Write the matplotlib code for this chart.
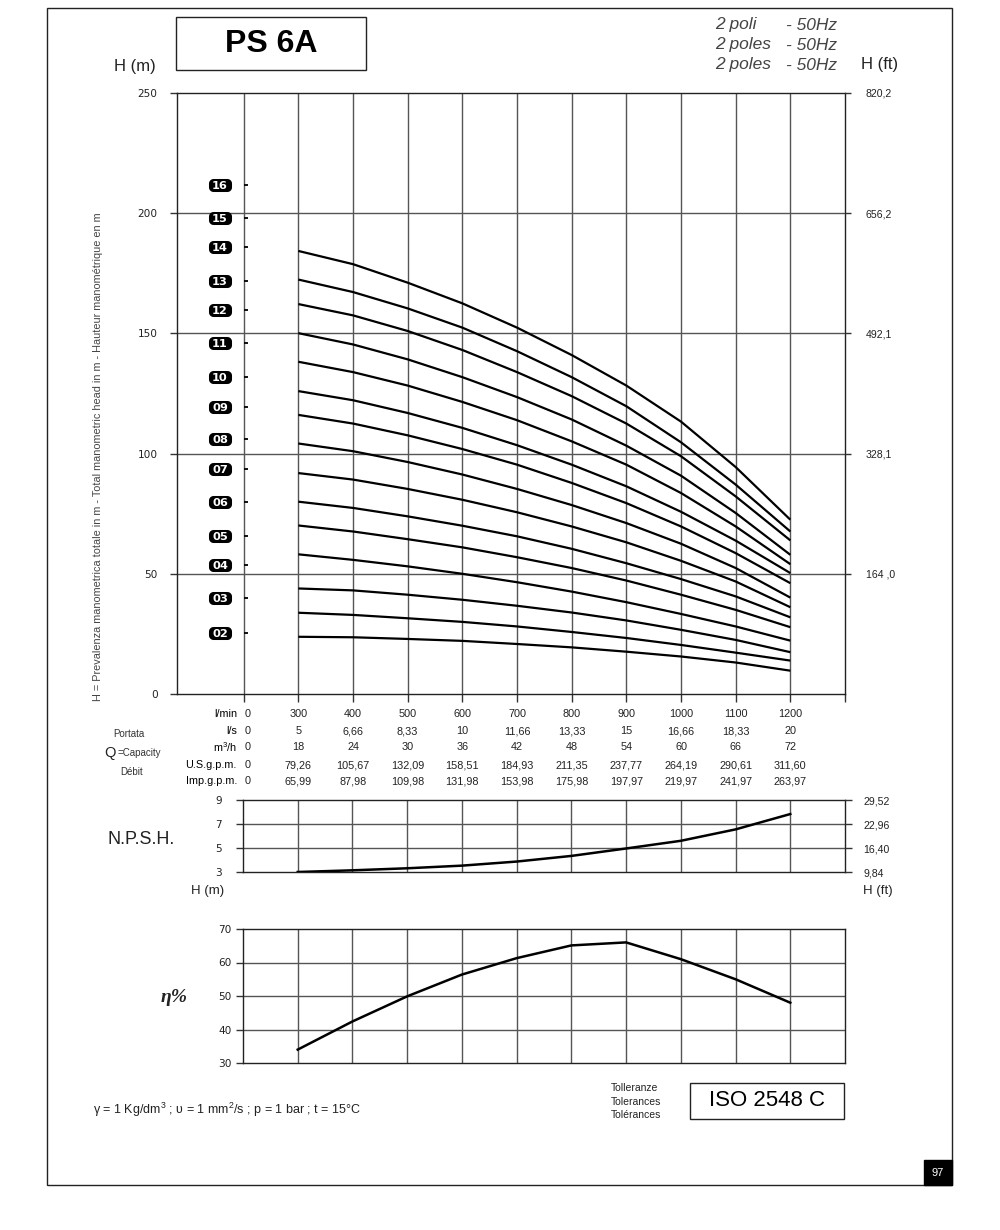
import matplotlib
matplotlib.use("Agg")
import numpy as np
import matplotlib.pyplot as plt
from matplotlib.transforms import Affine2D, blended_transform_factory
from matplotlib.patches import Rectangle
from matplotlib.path import Path

plt.rcParams['font.family'] = ['Liberation Sans', 'DejaVu Sans']
plt.rcParams['mathtext.fontset'] = 'custom'
plt.rcParams['mathtext.rm'] = 'Liberation Sans'
plt.rcParams['mathtext.it'] = 'Liberation Sans:italic'
plt.rcParams['mathtext.bf'] = 'Liberation Sans:bold'

# ---------------- data ----------------
flow_lpm = [300, 400, 500, 600, 700, 800, 900, 1000, 1100, 1200]
zero_col = 200          # the "0" column is drawn one grid step left of 300
right_edge = 1300

h16 = [184.3, 178.8, 171.1, 162.5, 152.4, 141.0, 128.3, 113.3, 94.4, 72.5]
h15 = [172.4, 167.2, 160.4, 152.4, 142.6, 131.8, 119.7, 104.7, 87.1, 67.6]
h14 = [162.2, 157.5, 151.0, 143.1, 133.9, 123.9, 112.5, 98.9, 82.2, 63.9]
h13 = [150.1, 145.4, 139.2, 131.8, 123.5, 114.2, 103.3, 90.8, 75.3, 57.9]
h12 = [138.2, 133.9, 128.3, 121.5, 113.9, 105.1, 95.4, 83.6, 69.7, 54.0]
h11 = [126.0, 122.2, 116.9, 110.7, 103.5, 95.4, 86.4, 75.8, 63.8, 50.3]
h10 = [116.1, 112.5, 107.6, 101.9, 95.4, 87.8, 79.4, 69.7, 58.6, 46.1]
h09 = [104.2, 101.0, 96.5, 91.3, 85.3, 78.6, 71.1, 62.5, 52.4, 40.1]
h08 = [91.9, 89.2, 85.3, 80.8, 75.6, 69.7, 63.1, 55.4, 46.8, 36.1]
h07 = [80.0, 77.4, 73.9, 70.0, 65.6, 60.4, 54.4, 47.8, 40.6, 31.9]
h06 = [70.1, 67.6, 64.4, 61.0, 56.9, 52.4, 47.2, 41.3, 35.0, 27.8]
h05 = [58.1, 55.8, 53.1, 50.0, 46.5, 42.6, 38.2, 33.3, 28.1, 22.2]
h04 = [43.9, 43.1, 41.3, 39.2, 36.7, 33.9, 30.6, 26.7, 22.5, 17.4]
h03 = [33.8, 32.9, 31.5, 30.0, 28.1, 25.8, 23.3, 20.4, 17.2, 13.9]
h02 = [23.8, 23.6, 22.9, 22.1, 20.8, 19.4, 17.6, 15.6, 13.1, 9.7]
head_curves = [h02, h03, h04, h05, h06, h07, h08, h09, h10, h11, h12, h13, h14, h15, h16]

stage_names = ['02', '03', '04', '05', '06', '07', '08', '09', '10', '11',
               '12', '13', '14', '15', '16']
shutoff_head = [25.4, 39.9, 53.6, 65.7, 79.9, 93.6, 106.1, 119.4, 131.9, 146.0,
                159.7, 171.8, 186.0, 198.0, 211.7]

h_ticks = [0, 50, 100, 150, 200, 250]
ft_ticks = [50, 100, 150, 200, 250]
ft_labels = ['164 ,0', '328,1', '492,1', '656,2', '820,2']

lpm_labels = ['0', '300', '400', '500', '600', '700', '800', '900', '1000', '1100', '1200']
ls_labels = ['0', '5', '6,66', '8,33', '10', '11,66', '13,33', '15', '16,66', '18,33', '20']
m3h_labels = ['0', '18', '24', '30', '36', '42', '48', '54', '60', '66', '72']
usgpm_labels = ['0', '79,26', '105,67', '132,09', '158,51', '184,93', '211,35',
                '237,77', '264,19', '290,61', '311,60']
impgpm_labels = ['0', '65,99', '87,98', '109,98', '131,98', '153,98', '175,98',
                 '197,97', '219,97', '241,97', '263,97']
row_names = ['l/min', 'l/s', 'm$^3$/h', 'U.S.g.p.m.', 'Imp.g.p.m.']

npsh = [3.0, 3.14, 3.31, 3.53, 3.87, 4.34, 4.96, 5.6, 6.55, 7.83]
npsh_ticks = [3, 5, 7, 9]
npsh_ft_labels = ['9,84', '16,40', '22,96', '29,52']

eff = [34.0, 42.4, 49.9, 56.4, 61.3, 65.1, 66.0, 61.0, 55.0, 48.0]
eff_ticks = [30, 40, 50, 60, 70]

# ---------------- layout helpers ----------------
W, H = 1000, 1230
fig = plt.figure(figsize=(W / 100, H / 100), dpi=100)
px = Affine2D().scale(1 / W, -1 / H).translate(0, 1) + fig.transFigure


def rect(l, t, r, b):
    return [l / W, 1 - b / H, (r - l) / W, (b - t) / H]


def rounded_rect_path(w, h, r, n=7):
    verts = []
    for cx, cy, a0 in [(w / 2 - r, h / 2 - r, 0), (-w / 2 + r, h / 2 - r, 90),
                       (-w / 2 + r, -h / 2 + r, 180), (w / 2 - r, -h / 2 + r, 270)]:
        for t in np.linspace(a0, a0 + 90, n):
            verts.append((cx + r * np.cos(np.radians(t)), cy + r * np.sin(np.radians(t))))
    verts.append(verts[0])
    codes = [Path.MOVETO] + [Path.LINETO] * (len(verts) - 2) + [Path.CLOSEPOLY]
    return Path(verts, codes)


GRID = '#555555'
TXT = '#222222'
TICKFONT = ['DejaVu Sans']
grid_x = [zero_col] + flow_lpm


def style_axes(a):
    for s in a.spines.values():
        s.set_color('#222222')
        s.set_linewidth(1.0)


def left_ticklabels(a, ticks, size=7.6):
    a.set_yticks(ticks)
    a.set_yticklabels([str(t) for t in ticks], family=TICKFONT, fontsize=size,
                      color=TXT)


# ---------------- main head chart ----------------
ax = fig.add_axes(rect(177, 93, 845, 694))
ax.set_xlim(78, right_edge)
ax.set_ylim(0, 250)
style_axes(ax)
for gx in grid_x:
    ax.axvline(gx, color=GRID, lw=1.0, zorder=1)
for gy in h_ticks[1:-1]:
    ax.axhline(gy, color=GRID, lw=1.0, zorder=1)
ax.set_xticks(grid_x + [right_edge])
ax.set_xticklabels([])
ax.tick_params(axis='x', direction='out', length=6, width=1.0, color='#333333')
left_ticklabels(ax, h_ticks)
ax.tick_params(axis='y', direction='out', length=5, width=1.0, pad=9,
               color='#333333')

for h in head_curves:
    ax.plot(flow_lpm, h, color='black', lw=1.6, zorder=3, solid_capstyle='butt')

ax.plot([zero_col] * len(shutoff_head), shutoff_head, ls='none', marker=1,
        ms=3, mew=1.3, color='black', zorder=3)
lab_tr = blended_transform_factory(px, ax.transData)
badge = rounded_rect_path(1.0, 13 / 23, 0.2)
ax.plot([220] * len(shutoff_head), shutoff_head, transform=lab_tr, ls='none',
        marker=badge, ms=16.6, mfc='black', mec='black', mew=0, zorder=4,
        clip_on=False)
for name, y in zip(stage_names, shutoff_head):
    ax.text(220, y, name, transform=lab_tr, ha='center', va='center_baseline',
            fontsize=8.2, fontweight='bold', family=['DejaVu Sans'],
            color='white', zorder=5)

ax2 = ax.twinx()
ax2.set_ylim(0, 250)
ax2.set_yticks(ft_ticks)
ax2.set_yticklabels(ft_labels)
ax2.tick_params(axis='y', direction='out', length=4, width=1.0, pad=11,
                labelsize=7.6, labelcolor=TXT, color='#333333')
for s in ax2.spines.values():
    s.set_visible(False)

# flow table
tab_tr = blended_transform_factory(ax.transData, px)
rows = [lpm_labels, ls_labels, m3h_labels, usgpm_labels, impgpm_labels]
row_y = [714, 731, 747, 765, 781]
for rname, vals, y in zip(row_names, rows, row_y):
    fig.text(237, y, rname, transform=px, ha='right', va='center',
             fontsize=7.8, color='black')
    for i, v in enumerate(vals):
        xx = grid_x[i] if i > 0 else zero_col + 8
        fig.text(xx, y, v, transform=tab_tr, ha='center', va='center',
                 fontsize=7.8, color=TXT)

fig.text(129, 734, 'Portata', transform=px, ha='center', va='center',
         fontsize=7, color='#333333')
fig.text(104, 753, 'Q', transform=px, ha='left', va='center',
         fontsize=10.5, color='#222222')
fig.text(118, 753, '=Capacity', transform=px, ha='left', va='center',
         fontsize=7, color='#333333')
fig.text(132, 772, 'Débit', transform=px, ha='center', va='center',
         fontsize=7, color='#333333')

# ---------------- NPSH chart ----------------
axn = fig.add_axes(rect(243, 800, 845, 872))
axn.set_xlim(zero_col, right_edge)
axn.set_ylim(3, 9)
style_axes(axn)
for gx in flow_lpm:
    axn.axvline(gx, color=GRID, lw=1.0, zorder=1)
for gy in npsh_ticks[1:-1]:
    axn.axhline(gy, color=GRID, lw=1.0, zorder=1)
axn.set_xticks([])
left_ticklabels(axn, npsh_ticks)
axn.tick_params(axis='y', direction='out', length=5, width=1.0, pad=10,
                color='#333333')
axn.plot(flow_lpm, npsh, color='black', lw=1.8, zorder=3)
axn2 = axn.twinx()
axn2.set_ylim(3, 9)
axn2.set_yticks(npsh_ticks)
axn2.set_yticklabels(npsh_ft_labels)
axn2.tick_params(axis='y', direction='out', length=5, width=1.0, pad=8,
                 labelsize=7.6, labelcolor=TXT, color='#333333')
for s in axn2.spines.values():
    s.set_visible(False)

fig.text(141, 840, 'N.P.S.H.', transform=px, ha='center', va='center',
         fontsize=13, color='#222222')
fig.text(208, 891, 'H (m)', transform=px, ha='center', va='center',
         fontsize=9.5, color='#222222')
fig.text(863, 891, 'H (ft)', transform=px, ha='left', va='center',
         fontsize=9.5, color='#222222')

# ---------------- efficiency chart ----------------
axe = fig.add_axes(rect(243, 929, 845, 1063))
axe.set_xlim(zero_col, right_edge)
axe.set_ylim(30, 70)
style_axes(axe)
for gx in flow_lpm:
    axe.axvline(gx, color=GRID, lw=1.0, zorder=1)
for gy in eff_ticks[1:-1]:
    axe.axhline(gy, color=GRID, lw=1.0, zorder=1)
axe.set_xticks([])
left_ticklabels(axe, eff_ticks)
axe.tick_params(axis='y', direction='out', length=5, width=1.0, pad=3,
                color='#333333')
axe.plot(flow_lpm, eff, color='black', lw=1.8, zorder=3)
fig.text(174, 997, 'η%', transform=px, ha='center', va='center',
         fontsize=14, style='italic', fontweight='bold',
         family=['Liberation Serif', 'DejaVu Serif'], color='#222222')

# ---------------- frame, titles, notes ----------------
fig.add_artist(Rectangle((47, 8), 905, 1177, transform=px, fill=False,
                         ec='#222222', lw=1.0))
fig.add_artist(Rectangle((176, 17), 190, 53, transform=px, fill=False,
                         ec='#222222', lw=1.0))
fig.text(271, 44, 'PS 6A', transform=px, ha='center', va='center',
         fontsize=23, fontweight='bold', color='black')
fig.text(135, 66, 'H (m)', transform=px, ha='center', va='center',
         fontsize=12, color='#222222')
fig.text(880, 65, 'H (ft)', transform=px, ha='center', va='center',
         fontsize=12, color='#222222')
for y, left in zip([25, 45, 65], ['2 poli', '2 poles', '2 poles']):
    fig.text(715, y, left, transform=px, ha='left', va='center',
             fontsize=12.5, style='italic', color='#444444')
    fig.text(837, y, '- 50Hz', transform=px, ha='right', va='center',
             fontsize=12.5, style='italic', color='#444444')

fig.text(98, 457,
         'H = Prevalenza manometrica totale in m - Total manometric head in m - '
         'Hauteur manométrique en m',
         transform=px, rotation=90, ha='center', va='center',
         fontsize=7.8, color='#444444')

fig.text(93, 1110,
         'γ = 1 Kg/dm$^3$ ; υ = 1 mm$^2$/s ; p = 1 bar ; t = 15°C',
         transform=px, ha='left', va='center', fontsize=9, color='#222222')

for y, t in zip([1088, 1102, 1115], ['Tolleranze', 'Tolerances', 'Tolérances']):
    fig.text(611, y, t, transform=px, ha='left', va='center',
             fontsize=7.5, color='#222222')
fig.add_artist(Rectangle((690, 1083), 154, 36, transform=px, fill=False,
                         ec='#222222', lw=1.0))
fig.text(767, 1101, 'ISO 2548 C', transform=px, ha='center', va='center',
         fontsize=16, color='black')

fig.add_artist(Rectangle((924, 1160), 28, 25, transform=px, fc='black',
                         ec='black'))
fig.text(938, 1173, '97', transform=px, ha='center', va='center',
         fontsize=8, color='white')

fig.savefig('out.png', dpi=100, facecolor='white')
